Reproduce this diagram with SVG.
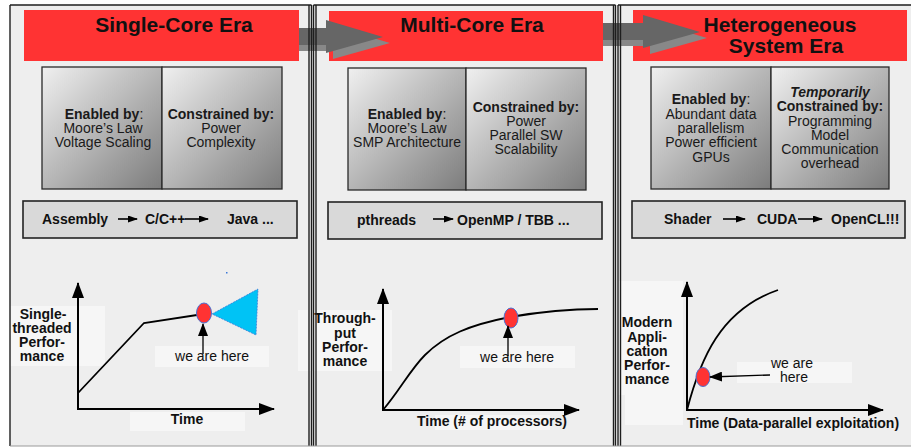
<svg xmlns="http://www.w3.org/2000/svg" width="911" height="447" viewBox="0 0 911 447">
  <style>
    .hdr { font: bold 21px "Liberation Sans", Arial, sans-serif; fill: #111; text-anchor: middle; }
    .box { font: 14px "Liberation Sans", Arial, sans-serif; fill: #1a1a1a; text-anchor: middle; }
    .b { font-weight: bold; }
    .bi { font-weight: bold; font-style: italic; }
    .lang { font: bold 14px "Liberation Sans", Arial, sans-serif; fill: #111; }
    .lbl { font: bold 14px "Liberation Sans", Arial, sans-serif; fill: #111; text-anchor: middle; }
    .here { font: 14px "Liberation Sans", Arial, sans-serif; fill: #111; text-anchor: middle; }
    .panel { fill: #eeeeee; }
    .frame { stroke: #1e1e1e; stroke-width: 1.4; fill: none; }
    .red { fill: #ff3333; }
    .shade { fill: url(#shade); stroke: #2a2a2a; stroke-width: 1.3; }
    .bar { fill: #d9d9d9; stroke: #222; stroke-width: 1.6; }
    .tag { fill: #f6f6f6; }
    .axis { stroke: #000; stroke-width: 2; fill: none; marker-end: url(#axisHead); }
    .curve { stroke: #000; stroke-width: 1.8; fill: none; }
    .ptr { stroke: #000; stroke-width: 1.3; fill: none; marker-end: url(#ptrHead); }
    .step { stroke: #000; stroke-width: 1.6; fill: none; marker-end: url(#stepHead); }
    .dot { fill: #ff3333; stroke: #4a6fd0; stroke-width: 1; }
  </style>
  <defs>
    <linearGradient id="shade" x1="0" y1="0" x2="1" y2="1">
      <stop offset="0" stop-color="#f0f0f0"/>
      <stop offset="1" stop-color="#7c7c7c"/>
    </linearGradient>
    <marker id="axisHead" viewBox="0 0 16 12" refX="15" refY="6" markerWidth="16" markerHeight="12" markerUnits="userSpaceOnUse" orient="auto">
      <path d="M0,0 L16,6 L0,12 Z" fill="#000"/>
    </marker>
    <marker id="ptrHead" viewBox="0 0 13 10" refX="12" refY="5" markerWidth="13" markerHeight="10" markerUnits="userSpaceOnUse" orient="auto">
      <path d="M0,0 L13,5 L0,10 Z" fill="#000"/>
    </marker>
    <marker id="stepHead" viewBox="0 0 10 7" refX="9" refY="3.5" markerWidth="10" markerHeight="7" markerUnits="userSpaceOnUse" orient="auto">
      <path d="M0,0 L10,3.5 L0,7 Z" fill="#000"/>
    </marker>
  </defs>

  <rect width="911" height="447" fill="#ffffff"/>

  <!-- panel backgrounds -->
  <g id="panels">
    <rect class="panel" x="10" y="5" width="301.5" height="441"/>
    <rect class="panel" x="313.5" y="5" width="302" height="441"/>
    <rect class="panel" x="618" y="5" width="300" height="441"/>
  </g>

  <!-- era headers -->
  <g id="header-single">
    <rect class="red" x="24" y="10" width="275" height="51"/>
    <text class="hdr" x="174" y="32">Single-Core Era</text>
  </g>
  <g id="header-multi">
    <rect class="red" x="329" y="11" width="274" height="50"/>
    <text class="hdr" x="472" y="32">Multi-Core Era</text>
  </g>
  <g id="header-hetero">
    <rect class="red" x="633" y="10" width="274" height="51"/>
    <text class="hdr" x="780" y="32">Heterogeneous</text>
    <text class="hdr" x="786" y="53">System Era</text>
  </g>

  <!-- transitions between eras -->
  <g id="connectors">
    <path d="M299,34 L333,34 L333,26 L390,43 L333,59 L333,51 L299,51 Z" fill="#888888"/>
    <path d="M299,28 L326,28 L326,20 L383,37 L326,53 L326,45 L299,45 Z" fill="#666666"/>
    <path d="M603,29 L650,29 L650,21 L707,38 L650,54 L650,46 L603,46 Z" fill="#888888"/>
    <path d="M603,23 L643,23 L643,15 L700,32 L643,48 L643,40 L603,40 Z" fill="#666666"/>
  </g>

  <!-- enablers / constraints -->
  <g id="factors-single">
    <rect class="shade" x="42" y="67" width="120" height="122"/>
    <rect class="shade" x="162" y="67" width="120" height="122"/>
    <text class="box" x="104" y="119"><tspan class="b">Enabled by</tspan>:</text>
    <text class="box" x="103" y="133">Moore’s Law</text>
    <text class="box" x="103" y="147">Voltage Scaling</text>
    <text class="box b" x="221" y="119">Constrained by:</text>
    <text class="box" x="221" y="133">Power</text>
    <text class="box" x="221" y="147">Complexity</text>
  </g>
  <g id="factors-multi">
    <rect class="shade" x="348" y="68" width="118" height="122"/>
    <rect class="shade" x="466" y="68" width="120" height="122"/>
    <text class="box" x="407" y="119"><tspan class="b">Enabled by</tspan>:</text>
    <text class="box" x="407" y="133">Moore’s Law</text>
    <text class="box" x="407" y="147">SMP Architecture</text>
    <text class="box b" x="526" y="112">Constrained by:</text>
    <text class="box" x="526" y="126">Power</text>
    <text class="box" x="526" y="140">Parallel SW</text>
    <text class="box" x="526" y="154">Scalability</text>
  </g>
  <g id="factors-hetero">
    <rect class="shade" x="651" y="67" width="120" height="122"/>
    <rect class="shade" x="771" y="67" width="118" height="122"/>
    <text class="box" x="711" y="104"><tspan class="b">Enabled by</tspan>:</text>
    <text class="box" x="711" y="119">Abundant data</text>
    <text class="box" x="711" y="133">parallelism</text>
    <text class="box" x="711" y="147">Power efficient</text>
    <text class="box" x="711" y="162">GPUs</text>
    <text class="box bi" x="830" y="97">Temporarily</text>
    <text class="box b" x="830" y="111">Constrained by:</text>
    <text class="box" x="830" y="126">Programming</text>
    <text class="box" x="830" y="140">Model</text>
    <text class="box" x="830" y="154">Communication</text>
    <text class="box" x="830" y="168">overhead</text>
  </g>

  <!-- programming models -->
  <g id="lang-single">
    <rect class="bar" x="23" y="201" width="274" height="37"/>
    <text class="lang" x="42" y="224">Assembly</text>
    <line class="step" x1="118" y1="219" x2="137" y2="219"/>
    <text class="lang" x="145" y="224">C/C++</text>
    <line class="step" x1="185" y1="219" x2="208" y2="219"/>
    <text class="lang" x="227" y="224">Java ...</text>
  </g>
  <g id="lang-multi">
    <rect class="bar" x="328" y="202" width="274" height="37"/>
    <text class="lang" x="357" y="225">pthreads</text>
    <line class="step" x1="433" y1="219" x2="453" y2="219"/>
    <text class="lang" x="457" y="225">OpenMP / TBB ...</text>
  </g>
  <g id="lang-hetero">
    <rect class="bar" x="632" y="201" width="273" height="37"/>
    <text class="lang" x="664" y="224">Shader</text>
    <line class="step" x1="723" y1="219" x2="745" y2="219"/>
    <text class="lang" x="757" y="224">CUDA</text>
    <line class="step" x1="798" y1="219" x2="822" y2="219"/>
    <text class="lang" x="831" y="224">OpenCL!!!</text>
  </g>

  <!-- performance charts -->
  <g id="chart-single">
    <rect class="tag" x="10" y="306" width="95" height="60"/>
    <rect class="tag" x="155" y="346" width="114" height="21"/>
    <rect class="tag" x="130" y="412" width="115" height="19"/>
    <line class="axis" x1="78" y1="410" x2="78" y2="283"/>
    <line class="axis" x1="78" y1="409" x2="274" y2="409"/>
    <polyline class="curve" points="78,393 144,323 197,315"/>
    <polygon points="212,314 258,289 256,335" fill="#00c3f5" stroke="#3b78d8" stroke-width="0.8" stroke-dasharray="2 1"/>
    <rect x="226" y="272" width="1.5" height="1.5" fill="#3b78d8"/>
    <ellipse class="dot" cx="204" cy="313" rx="7.5" ry="10"/>
    <text class="here" x="212" y="361">we are here</text>
    <line class="ptr" x1="203" y1="354" x2="203" y2="324"/>
    <text class="lbl" x="43" y="319">Single-</text>
    <text class="lbl" x="42" y="333">threaded</text>
    <text class="lbl" x="42" y="347">Perfor-</text>
    <text class="lbl" x="42" y="361">mance</text>
    <text class="lbl" x="187" y="424">Time</text>
  </g>
  <g id="chart-multi">
    <rect class="tag" x="298" y="310" width="94" height="61"/>
    <rect class="tag" x="460" y="346" width="115" height="22"/>
    <rect class="tag" x="435" y="415" width="115" height="15"/>
    <line class="axis" x1="383" y1="411" x2="383" y2="289"/>
    <line class="axis" x1="383" y1="410" x2="579" y2="410"/>
    <path class="curve" d="M383,410 C400,390 410,370 425,355 C445,335 470,325 510,317 C545,311 570,309 598,309"/>
    <ellipse class="dot" cx="511" cy="318" rx="7" ry="10"/>
    <text class="here" x="517" y="362">we are here</text>
    <line class="ptr" x1="508" y1="356" x2="508" y2="326"/>
    <text class="lbl" x="345" y="323">Through-</text>
    <text class="lbl" x="345" y="338">put</text>
    <text class="lbl" x="345" y="352">Perfor-</text>
    <text class="lbl" x="345" y="366">mance</text>
    <text class="lbl" x="492" y="426">Time (# of processors)</text>
  </g>
  <g id="chart-hetero">
    <rect class="tag" x="618" y="281" width="65" height="114"/>
    <rect class="tag" x="625" y="395" width="58" height="30"/>
    <rect class="tag" x="737" y="362" width="115" height="21"/>
    <line class="axis" x1="687" y1="411" x2="687" y2="282"/>
    <line class="axis" x1="687" y1="410" x2="883" y2="410"/>
    <path class="curve" d="M687,410 C700,360 720,310 778,290"/>
    <ellipse class="dot" cx="703" cy="377" rx="7" ry="9.5"/>
    <line class="ptr" x1="770" y1="375" x2="710" y2="377"/>
    <text class="here" x="792" y="368">we are</text>
    <text class="here" x="794" y="382">here</text>
    <text class="lbl" x="647" y="327">Modern</text>
    <text class="lbl" x="647" y="342">Appli-</text>
    <text class="lbl" x="647" y="356">cation</text>
    <text class="lbl" x="647" y="370">Perfor-</text>
    <text class="lbl" x="647" y="384">mance</text>
    <text class="lbl" x="793" y="428">Time (Data-parallel exploitation)</text>
  </g>

  <!-- panel frames -->
  <g id="frames">
    <line class="frame" x1="10" y1="5" x2="311.5" y2="5"/>
    <line class="frame" x1="313.5" y1="5" x2="615.5" y2="5"/>
    <line class="frame" x1="618" y1="5" x2="911" y2="5"/>
    <line class="frame" x1="10" y1="5" x2="10" y2="446"/>
    <line class="frame" x1="309" y1="5" x2="309" y2="446" stroke-width="1"/>
    <line class="frame" x1="311.5" y1="5" x2="311.5" y2="446"/>
    <line class="frame" x1="313.5" y1="5" x2="313.5" y2="446"/>
    <line class="frame" x1="316" y1="5" x2="316" y2="446" stroke-width="1"/>
    <line class="frame" x1="613.5" y1="5" x2="613.5" y2="446" stroke-width="1"/>
    <line class="frame" x1="615.5" y1="5" x2="615.5" y2="446"/>
    <line class="frame" x1="618" y1="5" x2="618" y2="446"/>
    <line class="frame" x1="620.5" y1="5" x2="620.5" y2="446" stroke-width="1"/>
    <line x1="10" y1="446" x2="911" y2="446" stroke="#9a9a9a" stroke-width="1.2"/>
  </g>
</svg>
